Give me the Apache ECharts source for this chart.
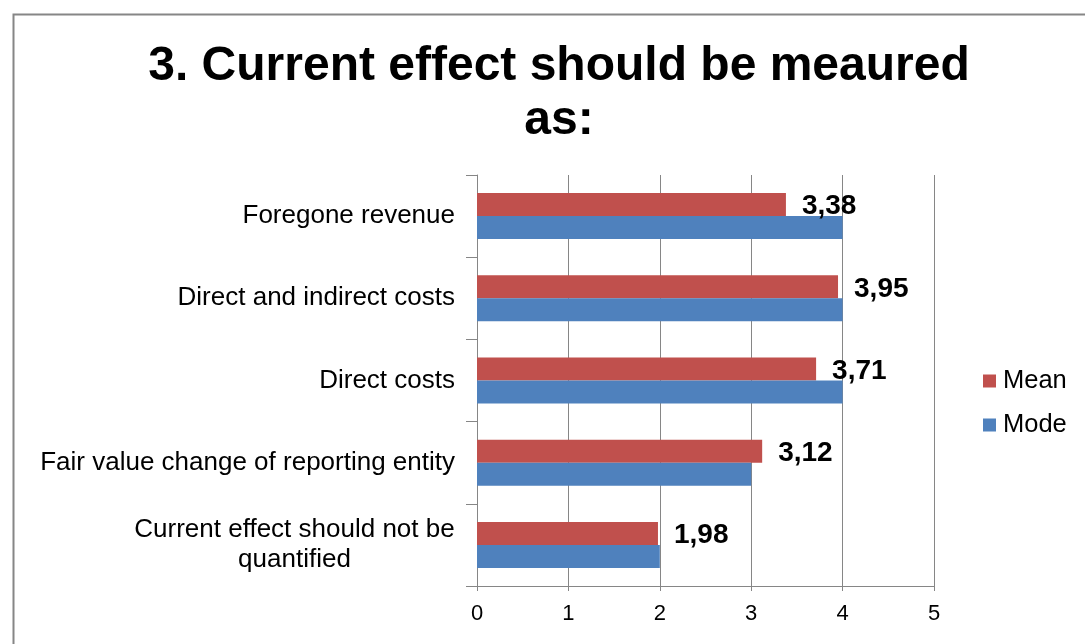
<!DOCTYPE html>
<html>
<head>
<meta charset="utf-8">
<script src="https://cdn.jsdelivr.net/npm/echarts@6/dist/echarts.min.js"></script>
<style>
html,body{margin:0;padding:0;background:#fff;}
#c{width:1085px;height:644px;}
</style>
</head>
<body>
<div id="c"></div>
<script>
const categories = [
  "Current effect should not be\nquantified",
  "Fair value change of reporting entity",
  "Direct costs",
  "Direct and indirect costs",
  "Foregone revenue"
];
const meanValues = [1.98, 3.12, 3.71, 3.95, 3.38];
const modeValues = [2, 3, 4, 4, 4];
const xTicks = [0, 1, 2, 3, 4, 5];
const titleText = "3. Current effect should be meaured\nas:";

const chart = echarts.init(document.getElementById('c'));
const font = '"Liberation Sans", Arial, sans-serif';
chart.setOption({
  animation: false,
  textStyle: { fontFamily: font },
  graphic: [{
    type: 'rect', left: 11, top: 12,
    shape: { width: 1200, height: 800 },
    style: { fill: 'none', stroke: '#868686', lineWidth: 2 },
    silent: true, z: -1
  }],
  title: {
    text: titleText,
    left: 554, top: 35, textAlign: 'center',
    textStyle: { fontFamily: font, fontSize: 48, fontWeight: 'bold', color: '#000', lineHeight: 54 }
  },
  legend: {
    orient: 'vertical', left: 983, top: 368, padding: 0,
    itemWidth: 13, itemHeight: 13, itemGap: 18,
    icon: 'rect',
    textStyle: { fontFamily: font, fontSize: 25.5, color: '#000', padding: [0, 0, 0, 2] },
    data: ['Mean', 'Mode']
  },
  grid: { left: 477, right: 151, top: 175, bottom: 58, containLabel: false },
  xAxis: {
    type: 'value', min: xTicks[0], max: xTicks[xTicks.length - 1], interval: 1,
    axisLine: { show: true, lineStyle: { color: '#868686', width: 1 } },
    axisTick: { show: true, length: 5, lineStyle: { color: '#868686' } },
    splitLine: { show: true, lineStyle: { color: '#868686', width: 1 } },
    axisLabel: { fontFamily: font, fontSize: 22, color: '#000', margin: 17 }
  },
  yAxis: {
    type: 'category', data: categories,
    axisLine: { show: true, lineStyle: { color: '#868686', width: 1 } },
    axisTick: { show: true, length: 11, alignWithLabel: false, lineStyle: { color: '#868686' } },
    axisLabel: {
      fontFamily: font, fontSize: 26, color: '#000', margin: 22, align: 'right', lineHeight: 30,
      formatter: v => v.indexOf('\n') >= 0 ? v.split('\n').map(l => '{c|' + l + '}').join('\n') : v,
      rich: { c: { width: 321, align: 'center', fontSize: 26, lineHeight: 30, fontFamily: font, color: '#000' } }
    }
  },
  series: [
    {
      name: 'Mean', type: 'bar', data: meanValues, barWidth: 23, barGap: '0%',
      itemStyle: { color: '#C0504D' },
      label: {
        show: true, position: 'right', distance: 16, offset: [0, 2],
        fontFamily: font, fontSize: 28, fontWeight: 'bold', color: '#000',
        formatter: p => String(p.value).replace('.', ',')
      }
    },
    {
      name: 'Mode', type: 'bar', data: modeValues, barWidth: 23, barGap: '0%',
      itemStyle: { color: '#4F81BD' }
    }
  ]
});
</script>
</body>
</html>
